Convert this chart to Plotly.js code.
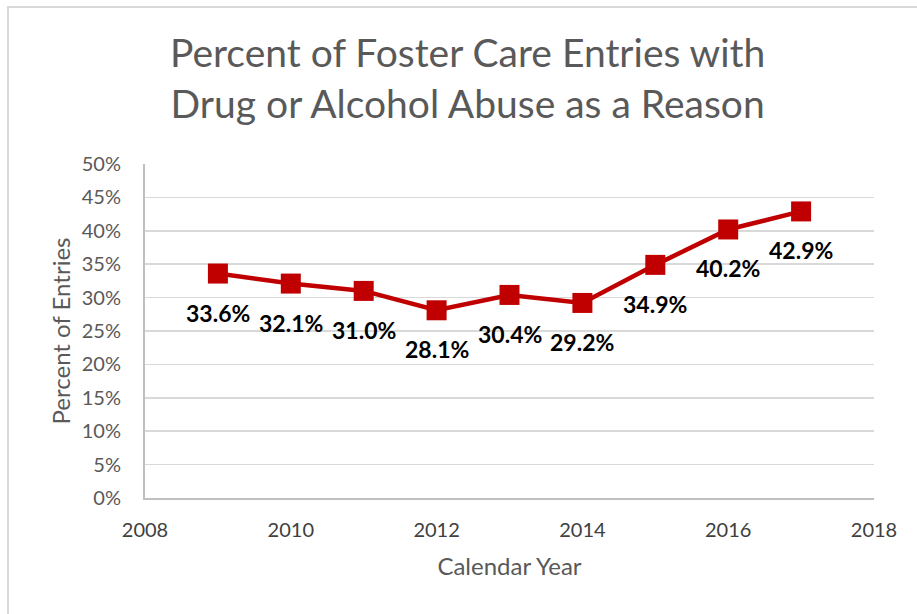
<!DOCTYPE html>
<html>
<head>
<meta charset="utf-8">
<script src="https://cdn.plot.ly/plotly-3.0.1.min.js"></script>
<style>
  html, body { margin: 0; padding: 0; background: #ffffff; overflow: hidden; }
  #frame { position: absolute; left: 7px; top: 6px; width: 940px; height: 640px; border: 2px solid #d9d9d9; box-sizing: border-box; pointer-events: none; }
  #chart { position: absolute; left: 0; top: 0; width: 917px; height: 614px; }
</style>
</head>
<body>
<div id="chart"></div>
<div id="frame"></div>
<script>
const years = [2009, 2010, 2011, 2012, 2013, 2014, 2015, 2016, 2017];
const percents = [33.6, 32.1, 31.0, 28.1, 30.4, 29.2, 34.9, 40.2, 42.9];
const xTicks = [2008, 2010, 2012, 2014, 2016, 2018];
const yTicks = [0, 5, 10, 15, 20, 25, 30, 35, 40, 45, 50];
const titleLines = ["Percent of Foster Care Entries with", "Drug or Alcohol Abuse as a Reason"];
const xTitle = "Calendar Year";
const yTitle = "Percent of Entries";

const FONT = "Lato, 'Open Sans', sans-serif";
const labelTexts = percents.map(v => v.toFixed(1) + "%");

const trace = {
  x: years,
  y: percents,
  type: "scatter",
  mode: "lines+markers",
  line: { color: "#c00000", width: 4.5 },
  marker: { symbol: "square", size: 20, color: "#c00000" },
  hoverinfo: "skip",
  showlegend: false
};

const annotations = years.map((yr, i) => ({
  x: yr, y: percents[i], xref: "x", yref: "y",
  text: labelTexts[i], showarrow: false,
  yshift: -39,
  font: { family: FONT, size: 23, color: "#000000", weight: "bold" }
}));

const layout = {
  width: 917, height: 614,
  margin: { l: 145, r: 43, t: 164, b: 116 },
  paper_bgcolor: "#ffffff", plot_bgcolor: "#ffffff",
  title: {
    text: titleLines.join("<br>"),
    font: { family: FONT, size: 39, color: "#595959" },
    x: 0.51, xanchor: "center",
    yref: "container", y: 1 - 67 / 614, yanchor: "middle"
  },
  xaxis: {
    range: [2008, 2018],
    tickvals: xTicks, ticktext: xTicks.map(String),
    showgrid: false, zeroline: false,
    showline: true, linecolor: "#bfbfbf", linewidth: 2,
    ticks: "", ticklabelstandoff: 13,
    tickfont: { family: FONT, size: 20, color: "#404040" },
    title: { text: xTitle, font: { family: FONT, size: 24, color: "#595959" }, standoff: 18 }
  },
  yaxis: {
    range: [0, 50],
    tickvals: yTicks, ticktext: yTicks.map(v => v + "%"),
    showgrid: true, gridcolor: "#d9d9d9", gridwidth: 1.5,
    zeroline: false,
    showline: true, linecolor: "#bfbfbf", linewidth: 2,
    ticks: "", ticklabelstandoff: 18,
    tickfont: { family: FONT, size: 20, color: "#595959" },
    title: { text: yTitle, font: { family: FONT, size: 24, color: "#595959" }, standoff: 4 }
  },
  annotations: annotations
};

Plotly.newPlot("chart", [trace], layout, { staticPlot: true, displayModeBar: false });
</script>
</body>
</html>
